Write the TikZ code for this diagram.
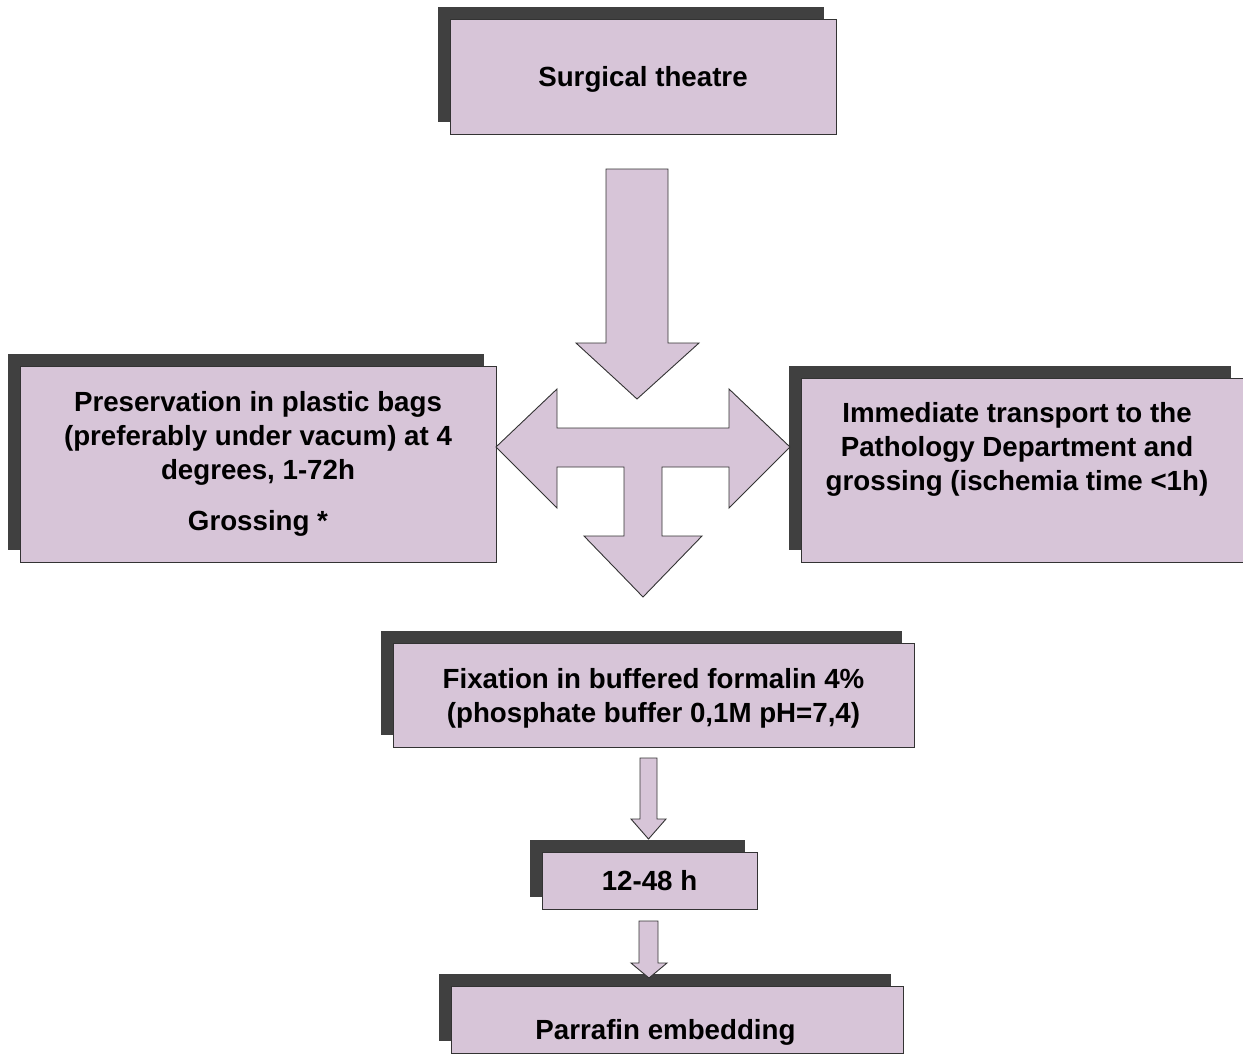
\documentclass[tikz,border=0pt]{standalone}
\usepackage{fontspec}
\setmainfont{Liberation Sans}
\usetikzlibrary{shadows}
\definecolor{lilac}{RGB}{215,197,216}
\definecolor{shade}{RGB}{64,64,64}
\tikzset{
	stage/.style = {draw=black!80, line width=0.9pt, fill=lilac, inner sep=0pt,
		drop shadow={shadow xshift=-12pt, shadow yshift=12pt, fill=shade, opacity=1},
		font=\fontsize{27.7}{34}\selectfont\bfseries, align=center},
	stagetext/.style = {inner sep=0pt, font=\fontsize{27.7}{34}\selectfont\bfseries, align=center},
	flowarrow/.style = {draw=black!80, line width=0.9pt, fill=lilac, line join=miter}
}

\begin{document}
\begin{tikzpicture}[x=1pt, y=-1pt]
	\useasboundingbox (0,0) rectangle (1243,1055);
	\clip (0,0) rectangle (1243,1055);
	% ====== Stages ========
	\node[stage, minimum width=386pt, minimum height=115pt, text depth=0pt] (surg) at (643,76.5) {Surgical theatre};
	\node[stage, minimum width=476pt, minimum height=196pt] (pres) at (258,464)
		{Preservation in plastic bags\\(preferably under vacum) at 4\\degrees, 1-72h\\[17pt]Grossing *};
	\node[stage, minimum width=442pt, minimum height=184pt] (trans) at (1022,470) {};
	\node[stagetext] (transtxt) at (1017,449)
		{Immediate transport to the\\Pathology Department and\\grossing (ischemia time <1h)};
	\node[stage, minimum width=521pt, minimum height=104pt, text depth=0pt] (fix) at (653.5,695)
		{Fixation in buffered formalin 4\%\\(phosphate buffer 0,1M pH=7,4)};
	\node[stage, minimum width=215pt, minimum height=57pt] (time) at (649.5,880.5) {12-48 h};
	\node[stage, minimum width=452pt, minimum height=67pt] (emb) at (677,1019.5) {};
	\node[stagetext] (embtxt) at (665.5,1032) {Parrafin embedding};

	% ====== Arrows ========
	\draw[flowarrow] (606,169) -- (668,169) -- (668,343) -- (699,343) -- (637,399)
		-- (576,343) -- (606,343) -- cycle;
	\draw[flowarrow] (496,447) -- (557,389) -- (557,428) -- (729,428) -- (729,389)
		-- (790,447) -- (729,508) -- (729,467) -- (662,467) -- (662,536) -- (702,536)
		-- (643,597) -- (584,536) -- (624,536) -- (624,467) -- (557,467) -- (557,508) -- cycle;
	\draw[flowarrow] (640,758) -- (657,758) -- (657,819) -- (666,819) -- (648.5,839)
		-- (631,819) -- (640,819) -- cycle;
	\draw[flowarrow] (639,921) -- (658,921) -- (658,963) -- (667,963) -- (649,978)
		-- (631,963) -- (639,963) -- cycle;
\end{tikzpicture}
\end{document}
